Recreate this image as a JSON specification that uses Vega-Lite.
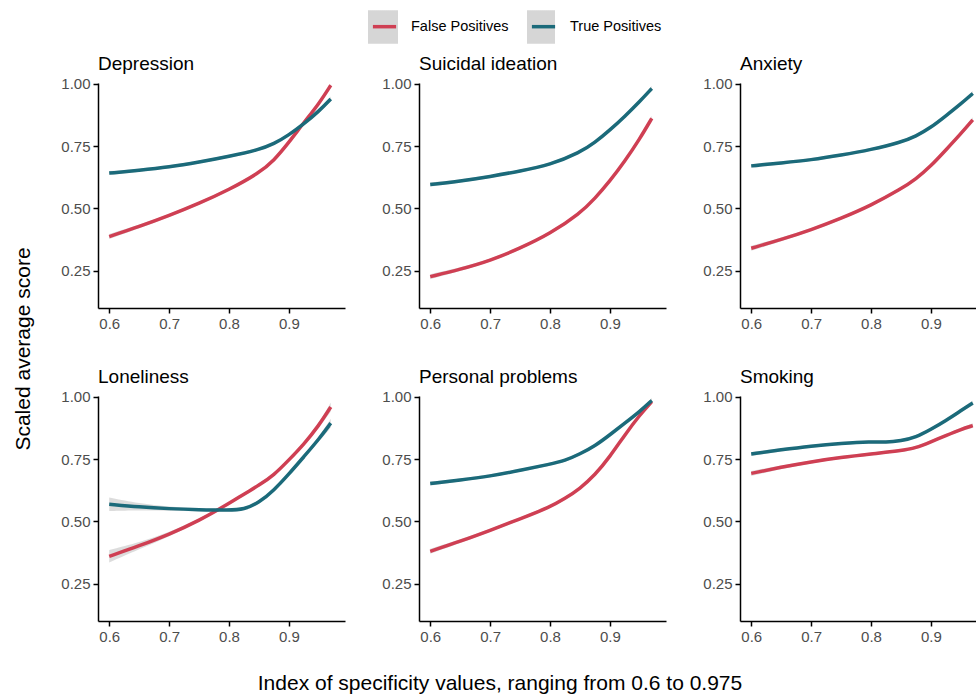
{
  "$schema": "https://vega.github.io/schema/vega-lite/v6.json",
  "background": "white",
  "padding": {"left": 12, "top": 10, "right": 0, "bottom": 5},
  "data": {"values": [
    {"panel":"Depression","group":"False Positives","x":0.6,"y":0.387,"lo":0.377,"hi":0.397},
    {"panel":"Depression","group":"False Positives","x":0.65,"y":0.427,"lo":0.42,"hi":0.434},
    {"panel":"Depression","group":"False Positives","x":0.7,"y":0.471,"lo":0.465,"hi":0.477},
    {"panel":"Depression","group":"False Positives","x":0.75,"y":0.52,"lo":0.514,"hi":0.526},
    {"panel":"Depression","group":"False Positives","x":0.8,"y":0.575,"lo":0.569,"hi":0.581},
    {"panel":"Depression","group":"False Positives","x":0.85,"y":0.642,"lo":0.636,"hi":0.648},
    {"panel":"Depression","group":"False Positives","x":0.875,"y":0.692,"lo":0.686,"hi":0.698},
    {"panel":"Depression","group":"False Positives","x":0.9,"y":0.765,"lo":0.759,"hi":0.771},
    {"panel":"Depression","group":"False Positives","x":0.925,"y":0.845,"lo":0.839,"hi":0.851},
    {"panel":"Depression","group":"False Positives","x":0.95,"y":0.92,"lo":0.913,"hi":0.927},
    {"panel":"Depression","group":"False Positives","x":0.97,"y":0.995,"lo":0.985,"hi":1.0},
    {"panel":"Depression","group":"True Positives","x":0.6,"y":0.642,"lo":0.634,"hi":0.65},
    {"panel":"Depression","group":"True Positives","x":0.65,"y":0.653,"lo":0.647,"hi":0.659},
    {"panel":"Depression","group":"True Positives","x":0.7,"y":0.666,"lo":0.66,"hi":0.672},
    {"panel":"Depression","group":"True Positives","x":0.75,"y":0.686,"lo":0.68,"hi":0.692},
    {"panel":"Depression","group":"True Positives","x":0.8,"y":0.709,"lo":0.703,"hi":0.715},
    {"panel":"Depression","group":"True Positives","x":0.85,"y":0.736,"lo":0.73,"hi":0.742},
    {"panel":"Depression","group":"True Positives","x":0.875,"y":0.759,"lo":0.753,"hi":0.765},
    {"panel":"Depression","group":"True Positives","x":0.9,"y":0.795,"lo":0.789,"hi":0.801},
    {"panel":"Depression","group":"True Positives","x":0.925,"y":0.84,"lo":0.834,"hi":0.846},
    {"panel":"Depression","group":"True Positives","x":0.95,"y":0.89,"lo":0.883,"hi":0.897},
    {"panel":"Depression","group":"True Positives","x":0.97,"y":0.94,"lo":0.93,"hi":0.95},

    {"panel":"Suicidal ideation","group":"False Positives","x":0.6,"y":0.226,"lo":0.216,"hi":0.236},
    {"panel":"Suicidal ideation","group":"False Positives","x":0.65,"y":0.255,"lo":0.248,"hi":0.262},
    {"panel":"Suicidal ideation","group":"False Positives","x":0.7,"y":0.29,"lo":0.284,"hi":0.296},
    {"panel":"Suicidal ideation","group":"False Positives","x":0.75,"y":0.34,"lo":0.334,"hi":0.346},
    {"panel":"Suicidal ideation","group":"False Positives","x":0.8,"y":0.398,"lo":0.392,"hi":0.404},
    {"panel":"Suicidal ideation","group":"False Positives","x":0.85,"y":0.48,"lo":0.474,"hi":0.486},
    {"panel":"Suicidal ideation","group":"False Positives","x":0.875,"y":0.54,"lo":0.534,"hi":0.546},
    {"panel":"Suicidal ideation","group":"False Positives","x":0.9,"y":0.61,"lo":0.604,"hi":0.616},
    {"panel":"Suicidal ideation","group":"False Positives","x":0.925,"y":0.69,"lo":0.684,"hi":0.696},
    {"panel":"Suicidal ideation","group":"False Positives","x":0.95,"y":0.78,"lo":0.773,"hi":0.787},
    {"panel":"Suicidal ideation","group":"False Positives","x":0.97,"y":0.862,"lo":0.852,"hi":0.872},
    {"panel":"Suicidal ideation","group":"True Positives","x":0.6,"y":0.596,"lo":0.588,"hi":0.604},
    {"panel":"Suicidal ideation","group":"True Positives","x":0.65,"y":0.61,"lo":0.604,"hi":0.616},
    {"panel":"Suicidal ideation","group":"True Positives","x":0.7,"y":0.628,"lo":0.622,"hi":0.634},
    {"panel":"Suicidal ideation","group":"True Positives","x":0.75,"y":0.65,"lo":0.644,"hi":0.656},
    {"panel":"Suicidal ideation","group":"True Positives","x":0.8,"y":0.675,"lo":0.669,"hi":0.681},
    {"panel":"Suicidal ideation","group":"True Positives","x":0.85,"y":0.725,"lo":0.719,"hi":0.731},
    {"panel":"Suicidal ideation","group":"True Positives","x":0.875,"y":0.765,"lo":0.759,"hi":0.771},
    {"panel":"Suicidal ideation","group":"True Positives","x":0.9,"y":0.815,"lo":0.809,"hi":0.821},
    {"panel":"Suicidal ideation","group":"True Positives","x":0.925,"y":0.87,"lo":0.864,"hi":0.876},
    {"panel":"Suicidal ideation","group":"True Positives","x":0.95,"y":0.93,"lo":0.923,"hi":0.937},
    {"panel":"Suicidal ideation","group":"True Positives","x":0.97,"y":0.982,"lo":0.972,"hi":0.992},

    {"panel":"Anxiety","group":"False Positives","x":0.6,"y":0.34,"lo":0.33,"hi":0.35},
    {"panel":"Anxiety","group":"False Positives","x":0.65,"y":0.375,"lo":0.368,"hi":0.382},
    {"panel":"Anxiety","group":"False Positives","x":0.7,"y":0.414,"lo":0.408,"hi":0.42},
    {"panel":"Anxiety","group":"False Positives","x":0.75,"y":0.46,"lo":0.454,"hi":0.466},
    {"panel":"Anxiety","group":"False Positives","x":0.8,"y":0.512,"lo":0.506,"hi":0.518},
    {"panel":"Anxiety","group":"False Positives","x":0.85,"y":0.578,"lo":0.572,"hi":0.584},
    {"panel":"Anxiety","group":"False Positives","x":0.875,"y":0.618,"lo":0.612,"hi":0.624},
    {"panel":"Anxiety","group":"False Positives","x":0.9,"y":0.67,"lo":0.664,"hi":0.676},
    {"panel":"Anxiety","group":"False Positives","x":0.925,"y":0.735,"lo":0.729,"hi":0.741},
    {"panel":"Anxiety","group":"False Positives","x":0.95,"y":0.8,"lo":0.793,"hi":0.807},
    {"panel":"Anxiety","group":"False Positives","x":0.97,"y":0.856,"lo":0.846,"hi":0.866},
    {"panel":"Anxiety","group":"True Positives","x":0.6,"y":0.671,"lo":0.663,"hi":0.679},
    {"panel":"Anxiety","group":"True Positives","x":0.65,"y":0.683,"lo":0.677,"hi":0.689},
    {"panel":"Anxiety","group":"True Positives","x":0.7,"y":0.695,"lo":0.689,"hi":0.701},
    {"panel":"Anxiety","group":"True Positives","x":0.75,"y":0.714,"lo":0.708,"hi":0.72},
    {"panel":"Anxiety","group":"True Positives","x":0.8,"y":0.736,"lo":0.73,"hi":0.742},
    {"panel":"Anxiety","group":"True Positives","x":0.85,"y":0.766,"lo":0.76,"hi":0.772},
    {"panel":"Anxiety","group":"True Positives","x":0.875,"y":0.79,"lo":0.784,"hi":0.796},
    {"panel":"Anxiety","group":"True Positives","x":0.9,"y":0.825,"lo":0.819,"hi":0.831},
    {"panel":"Anxiety","group":"True Positives","x":0.925,"y":0.872,"lo":0.866,"hi":0.878},
    {"panel":"Anxiety","group":"True Positives","x":0.95,"y":0.92,"lo":0.913,"hi":0.927},
    {"panel":"Anxiety","group":"True Positives","x":0.97,"y":0.962,"lo":0.952,"hi":0.972},

    {"panel":"Loneliness","group":"False Positives","x":0.6,"y":0.36,"lo":0.335,"hi":0.385},
    {"panel":"Loneliness","group":"False Positives","x":0.65,"y":0.402,"lo":0.388,"hi":0.416},
    {"panel":"Loneliness","group":"False Positives","x":0.7,"y":0.448,"lo":0.44,"hi":0.456},
    {"panel":"Loneliness","group":"False Positives","x":0.75,"y":0.503,"lo":0.497,"hi":0.509},
    {"panel":"Loneliness","group":"False Positives","x":0.8,"y":0.572,"lo":0.566,"hi":0.578},
    {"panel":"Loneliness","group":"False Positives","x":0.825,"y":0.61,"lo":0.604,"hi":0.616},
    {"panel":"Loneliness","group":"False Positives","x":0.85,"y":0.645,"lo":0.639,"hi":0.651},
    {"panel":"Loneliness","group":"False Positives","x":0.875,"y":0.686,"lo":0.68,"hi":0.692},
    {"panel":"Loneliness","group":"False Positives","x":0.9,"y":0.747,"lo":0.741,"hi":0.753},
    {"panel":"Loneliness","group":"False Positives","x":0.925,"y":0.81,"lo":0.803,"hi":0.817},
    {"panel":"Loneliness","group":"False Positives","x":0.95,"y":0.885,"lo":0.876,"hi":0.894},
    {"panel":"Loneliness","group":"False Positives","x":0.97,"y":0.96,"lo":0.942,"hi":0.978},
    {"panel":"Loneliness","group":"True Positives","x":0.6,"y":0.569,"lo":0.542,"hi":0.596},
    {"panel":"Loneliness","group":"True Positives","x":0.65,"y":0.558,"lo":0.544,"hi":0.572},
    {"panel":"Loneliness","group":"True Positives","x":0.7,"y":0.551,"lo":0.543,"hi":0.559},
    {"panel":"Loneliness","group":"True Positives","x":0.75,"y":0.547,"lo":0.541,"hi":0.553},
    {"panel":"Loneliness","group":"True Positives","x":0.8,"y":0.545,"lo":0.539,"hi":0.551},
    {"panel":"Loneliness","group":"True Positives","x":0.825,"y":0.548,"lo":0.542,"hi":0.554},
    {"panel":"Loneliness","group":"True Positives","x":0.85,"y":0.575,"lo":0.569,"hi":0.581},
    {"panel":"Loneliness","group":"True Positives","x":0.875,"y":0.625,"lo":0.619,"hi":0.631},
    {"panel":"Loneliness","group":"True Positives","x":0.9,"y":0.69,"lo":0.684,"hi":0.696},
    {"panel":"Loneliness","group":"True Positives","x":0.925,"y":0.76,"lo":0.753,"hi":0.767},
    {"panel":"Loneliness","group":"True Positives","x":0.95,"y":0.83,"lo":0.821,"hi":0.839},
    {"panel":"Loneliness","group":"True Positives","x":0.97,"y":0.895,"lo":0.877,"hi":0.913},

    {"panel":"Personal problems","group":"False Positives","x":0.6,"y":0.38,"lo":0.37,"hi":0.39},
    {"panel":"Personal problems","group":"False Positives","x":0.65,"y":0.42,"lo":0.413,"hi":0.427},
    {"panel":"Personal problems","group":"False Positives","x":0.7,"y":0.464,"lo":0.458,"hi":0.47},
    {"panel":"Personal problems","group":"False Positives","x":0.75,"y":0.51,"lo":0.504,"hi":0.516},
    {"panel":"Personal problems","group":"False Positives","x":0.8,"y":0.558,"lo":0.552,"hi":0.564},
    {"panel":"Personal problems","group":"False Positives","x":0.825,"y":0.592,"lo":0.586,"hi":0.598},
    {"panel":"Personal problems","group":"False Positives","x":0.85,"y":0.632,"lo":0.626,"hi":0.638},
    {"panel":"Personal problems","group":"False Positives","x":0.875,"y":0.686,"lo":0.68,"hi":0.692},
    {"panel":"Personal problems","group":"False Positives","x":0.9,"y":0.76,"lo":0.754,"hi":0.766},
    {"panel":"Personal problems","group":"False Positives","x":0.925,"y":0.848,"lo":0.842,"hi":0.854},
    {"panel":"Personal problems","group":"False Positives","x":0.95,"y":0.928,"lo":0.921,"hi":0.935},
    {"panel":"Personal problems","group":"False Positives","x":0.97,"y":0.982,"lo":0.972,"hi":0.992},
    {"panel":"Personal problems","group":"True Positives","x":0.6,"y":0.652,"lo":0.644,"hi":0.66},
    {"panel":"Personal problems","group":"True Positives","x":0.65,"y":0.666,"lo":0.66,"hi":0.672},
    {"panel":"Personal problems","group":"True Positives","x":0.7,"y":0.682,"lo":0.676,"hi":0.688},
    {"panel":"Personal problems","group":"True Positives","x":0.75,"y":0.705,"lo":0.699,"hi":0.711},
    {"panel":"Personal problems","group":"True Positives","x":0.8,"y":0.73,"lo":0.724,"hi":0.736},
    {"panel":"Personal problems","group":"True Positives","x":0.825,"y":0.744,"lo":0.738,"hi":0.75},
    {"panel":"Personal problems","group":"True Positives","x":0.85,"y":0.771,"lo":0.765,"hi":0.777},
    {"panel":"Personal problems","group":"True Positives","x":0.875,"y":0.803,"lo":0.797,"hi":0.809},
    {"panel":"Personal problems","group":"True Positives","x":0.9,"y":0.848,"lo":0.842,"hi":0.854},
    {"panel":"Personal problems","group":"True Positives","x":0.925,"y":0.895,"lo":0.889,"hi":0.901},
    {"panel":"Personal problems","group":"True Positives","x":0.95,"y":0.942,"lo":0.935,"hi":0.949},
    {"panel":"Personal problems","group":"True Positives","x":0.97,"y":0.986,"lo":0.976,"hi":0.996},

    {"panel":"Smoking","group":"False Positives","x":0.6,"y":0.693,"lo":0.683,"hi":0.703},
    {"panel":"Smoking","group":"False Positives","x":0.65,"y":0.718,"lo":0.711,"hi":0.725},
    {"panel":"Smoking","group":"False Positives","x":0.7,"y":0.74,"lo":0.734,"hi":0.746},
    {"panel":"Smoking","group":"False Positives","x":0.75,"y":0.757,"lo":0.751,"hi":0.763},
    {"panel":"Smoking","group":"False Positives","x":0.8,"y":0.771,"lo":0.765,"hi":0.777},
    {"panel":"Smoking","group":"False Positives","x":0.85,"y":0.784,"lo":0.778,"hi":0.79},
    {"panel":"Smoking","group":"False Positives","x":0.875,"y":0.795,"lo":0.789,"hi":0.801},
    {"panel":"Smoking","group":"False Positives","x":0.9,"y":0.82,"lo":0.814,"hi":0.826},
    {"panel":"Smoking","group":"False Positives","x":0.925,"y":0.845,"lo":0.839,"hi":0.851},
    {"panel":"Smoking","group":"False Positives","x":0.95,"y":0.87,"lo":0.863,"hi":0.877},
    {"panel":"Smoking","group":"False Positives","x":0.97,"y":0.885,"lo":0.875,"hi":0.895},
    {"panel":"Smoking","group":"True Positives","x":0.6,"y":0.771,"lo":0.763,"hi":0.779},
    {"panel":"Smoking","group":"True Positives","x":0.65,"y":0.788,"lo":0.782,"hi":0.794},
    {"panel":"Smoking","group":"True Positives","x":0.7,"y":0.803,"lo":0.797,"hi":0.809},
    {"panel":"Smoking","group":"True Positives","x":0.75,"y":0.814,"lo":0.808,"hi":0.82},
    {"panel":"Smoking","group":"True Positives","x":0.8,"y":0.821,"lo":0.815,"hi":0.827},
    {"panel":"Smoking","group":"True Positives","x":0.825,"y":0.817,"lo":0.811,"hi":0.823},
    {"panel":"Smoking","group":"True Positives","x":0.85,"y":0.824,"lo":0.818,"hi":0.83},
    {"panel":"Smoking","group":"True Positives","x":0.875,"y":0.838,"lo":0.832,"hi":0.844},
    {"panel":"Smoking","group":"True Positives","x":0.9,"y":0.87,"lo":0.864,"hi":0.876},
    {"panel":"Smoking","group":"True Positives","x":0.925,"y":0.905,"lo":0.899,"hi":0.911},
    {"panel":"Smoking","group":"True Positives","x":0.95,"y":0.945,"lo":0.938,"hi":0.952},
    {"panel":"Smoking","group":"True Positives","x":0.97,"y":0.976,"lo":0.966,"hi":0.986}
  ]},
  "facet": {
    "field": "panel",
    "type": "nominal",
    "sort": ["Depression", "Suicidal ideation", "Anxiety", "Loneliness", "Personal problems", "Smoking"],
    "title": "Scaled average score",
    "header": {
      "titleOrient": "left",
      "titlePadding": 64,
      "titleFontSize": 21,
      "titleFontWeight": "normal",
      "titleColor": "black",
      "titleFont": "Liberation Sans",
      "labelAnchor": "start",
      "labelFontSize": 19,
      "labelColor": "black",
      "labelFont": "Liberation Sans",
      "labelPadding": 3
    }
  },
  "columns": 3,
  "bounds": "flush",
  "spacing": {"row": 88, "column": 74},
  "spec": {
    "width": 247,
    "height": 225,
    "layer": [
      {
        "mark": {"type": "area", "color": "#9a9a9a", "opacity": 0.35, "interpolate": "basis"},
        "encoding": {
          "x": {"field": "x", "type": "quantitative"},
          "y": {"field": "lo", "type": "quantitative"},
          "y2": {"field": "hi"},
          "detail": {"field": "group"}
        }
      },
      {
        "mark": {"type": "line", "strokeWidth": 3.5, "interpolate": "basis"},
        "encoding": {
          "x": {"field": "x", "type": "quantitative", "scale": {"domain": [0.58125, 0.99375], "nice": false, "zero": false},
                "axis": {"values": [0.6, 0.7, 0.8, 0.9], "format": ".1f", "title": null}},
          "y": {"field": "y", "type": "quantitative", "scale": {"domain": [0.1, 1.004], "nice": false, "zero": false},
                "axis": {"values": [0.25, 0.5, 0.75, 1.0], "format": ".2f", "title": null}},
          "stroke": {"field": "group", "type": "nominal",
                     "scale": {"domain": ["False Positives", "True Positives"], "range": ["#CF3F53", "#1B6A7A"]},
                     "legend": {"title": " ", "titleOrient": "left", "titlePadding": 30, "orient": "top", "direction": "horizontal", "offset": 10,
                                "symbolType": "M0,-0.7M0,0.7M-0.8,0H0.8", "symbolStrokeWidth": 3.5, "symbolSize": 841, "symbolOffset": 0,
                                "labelFontSize": 14.5, "labelColor": "black", "labelFont": "Liberation Sans", "labelOffset": 10, "columnPadding": 15,
                                "encode": {"entries": {"update": {"fill": {"value": {"gradient": "linear", "x1": 0, "y1": 0, "x2": 1, "y2": 0, "stops": [{"offset": 0, "color": "#d6d6d6"}, {"offset": 0.212, "color": "#d6d6d6"}, {"offset": 0.2121, "color": "rgba(255,255,255,0)"}, {"offset": 1, "color": "rgba(255,255,255,0)"}]}}}}}}}
        }
      }
    ]
  },
  "resolve": {"axis": {"x": "independent", "y": "independent"}},
  "title": {"text": "Index of specificity values, ranging from 0.6 to 0.975", "orient": "bottom", "anchor": "middle", "fontSize": 21, "fontWeight": "normal", "color": "black", "font": "Liberation Sans", "offset": 29},
  "config": {
    "view": {"stroke": null},
    "legend": {"layout": {"top": {"anchor": "middle"}}},
    "axis": {
      "domainColor": "black", "domainWidth": 1.5, "tickColor": "black", "tickWidth": 1.5, "tickSize": 5,
      "labelColor": "#4d4d4d", "labelFontSize": 15, "labelFont": "Liberation Sans", "grid": false, "labelPadding": 3
    }
  }
}
